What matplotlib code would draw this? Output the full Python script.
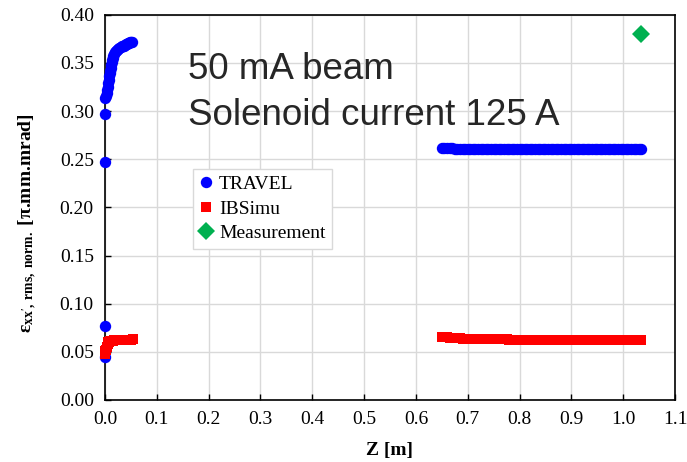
import matplotlib.pyplot as plt
import numpy as np

plt.rcParams['font.family'] = ['Liberation Serif', 'DejaVu Serif']
plt.rcParams['mathtext.fontset'] = 'custom'
plt.rcParams['mathtext.rm'] = 'Liberation Serif'
plt.rcParams['mathtext.bf'] = 'Liberation Serif:bold'
plt.rcParams['mathtext.it'] = 'Liberation Serif:italic'

# TRAVEL, near the source
travel_z_near = [0.000, 0.000, 0.000, 0.000, 0.001, 0.002, 0.003, 0.004, 0.005,
                 0.006, 0.007, 0.008, 0.009, 0.010, 0.011, 0.012, 0.013, 0.014,
                 0.015, 0.016, 0.018, 0.020, 0.022, 0.024, 0.026, 0.028, 0.030,
                 0.032, 0.034, 0.036, 0.038, 0.040, 0.042, 0.044, 0.046, 0.048,
                 0.050, 0.052]
travel_e_near = [0.045, 0.077, 0.247, 0.297, 0.313, 0.316, 0.319, 0.322, 0.325,
                 0.329, 0.332, 0.336, 0.339, 0.342, 0.345, 0.348, 0.351, 0.353,
                 0.355, 0.357, 0.359, 0.361, 0.362, 0.363, 0.364, 0.365, 0.366,
                 0.367, 0.368, 0.368, 0.369, 0.370, 0.370, 0.371, 0.371, 0.372,
                 0.372, 0.372]

# Downstream section sample positions
z_far = [0.650, 0.655, 0.660, 0.665, 0.670, 0.675, 0.680, 0.685, 0.690, 0.695,
         0.700, 0.705, 0.710, 0.715, 0.720, 0.725, 0.730, 0.735, 0.740, 0.745,
         0.750, 0.755, 0.760, 0.765, 0.770, 0.775, 0.780, 0.785, 0.790, 0.795,
         0.800, 0.805, 0.810, 0.815, 0.820, 0.825, 0.830, 0.835, 0.840, 0.845,
         0.850, 0.855, 0.860, 0.865, 0.870, 0.875, 0.880, 0.885, 0.890, 0.895,
         0.900, 0.905, 0.910, 0.915, 0.920, 0.925, 0.930, 0.935, 0.940, 0.945,
         0.950, 0.955, 0.960, 0.965, 0.970, 0.975, 0.980, 0.985, 0.990, 0.995,
         1.000, 1.005, 1.010, 1.015, 1.020, 1.025, 1.030, 1.035]

travel_e_far = [0.2612, 0.2612, 0.2611, 0.2611, 0.2611, 0.2610, 0.2610, 0.2610,
                0.2610, 0.2610, 0.2610, 0.2610, 0.2610, 0.2610, 0.2610, 0.2610,
                0.2610, 0.2610, 0.2610, 0.2610, 0.2610, 0.2610, 0.2610, 0.2610,
                0.2610, 0.2610, 0.2610, 0.2610, 0.2610, 0.2610, 0.2610, 0.2610,
                0.2610, 0.2610, 0.2610, 0.2610, 0.2610, 0.2610, 0.2610, 0.2610,
                0.2610, 0.2610, 0.2610, 0.2610, 0.2610, 0.2610, 0.2610, 0.2610,
                0.2610, 0.2610, 0.2610, 0.2610, 0.2610, 0.2610, 0.2610, 0.2610,
                0.2610, 0.2610, 0.2610, 0.2610, 0.2610, 0.2610, 0.2610, 0.2610,
                0.2610, 0.2610, 0.2610, 0.2610, 0.2610, 0.2610, 0.2610, 0.2610,
                0.2610, 0.2610, 0.2610, 0.2610, 0.2610, 0.2610]

# IBSimu, near the source
ibsimu_z_near = [0.000, 0.000, 0.002, 0.004, 0.005, 0.006, 0.008, 0.010, 0.012,
                 0.015, 0.018, 0.021, 0.024, 0.027, 0.030, 0.033, 0.036, 0.039,
                 0.042, 0.045, 0.048, 0.051, 0.054]
ibsimu_e_near = [0.048, 0.051, 0.052, 0.055, 0.058, 0.060, 0.0605, 0.061, 0.0612,
                 0.0615, 0.0618, 0.062, 0.0621, 0.0622, 0.0623, 0.0624, 0.0625,
                 0.0626, 0.0627, 0.0627, 0.0628, 0.0628, 0.0629]

# IBSimu, downstream section
ibsimu_e_far = [0.0655, 0.0652, 0.0650, 0.0648, 0.0645, 0.0643, 0.0641, 0.0639,
                0.0638, 0.0636, 0.0635, 0.0634, 0.0633, 0.0632, 0.0632, 0.0631,
                0.0631, 0.0630, 0.0630, 0.0630, 0.0630, 0.0629, 0.0629, 0.0629,
                0.0629, 0.0629, 0.0628, 0.0628, 0.0628, 0.0628, 0.0628, 0.0628,
                0.0628, 0.0628, 0.0628, 0.0628, 0.0628, 0.0628, 0.0628, 0.0628,
                0.0628, 0.0628, 0.0628, 0.0628, 0.0628, 0.0628, 0.0628, 0.0628,
                0.0628, 0.0628, 0.0628, 0.0628, 0.0628, 0.0628, 0.0628, 0.0628,
                0.0628, 0.0628, 0.0628, 0.0628, 0.0628, 0.0628, 0.0628, 0.0628,
                0.0628, 0.0628, 0.0628, 0.0628, 0.0628, 0.0628, 0.0628, 0.0628,
                0.0628, 0.0628, 0.0628, 0.0628, 0.0628, 0.0628]

# Measurement
meas_z = [1.035]
meas_e = [0.380]

fig = plt.figure(figsize=(6.87, 4.62), dpi=100)
ax = fig.add_axes([0.1528, 0.1342, 0.8297, 0.834])

ax.plot(travel_z_near + z_far, travel_e_near + travel_e_far, 'o',
        color='#0000FF', markersize=8.2, markeredgewidth=0, label='TRAVEL',
        zorder=3, clip_on=False)
ax.plot(ibsimu_z_near + z_far, ibsimu_e_near + ibsimu_e_far, 's',
        color='#FF0000', markersize=7.6, markeredgewidth=0, label='IBSimu',
        zorder=4, clip_on=False)
ax.plot(meas_z, meas_e, 'D', color='#00B050', markersize=9, markeredgewidth=0,
        label='Measurement', zorder=5, clip_on=False)

ax.set_xlim(0, 1.1)
ax.set_ylim(0, 0.40)
ax.set_xticks(np.arange(0, 1.11, 0.1))
ax.set_yticks(np.arange(0, 0.401, 0.05))
ax.xaxis.set_major_formatter(plt.FormatStrFormatter('%.1f'))
ax.yaxis.set_major_formatter(plt.FormatStrFormatter('%.2f'))
ax.tick_params(direction='in', length=4, width=1, labelsize=14, pad=8,
               colors='black')
ax.grid(True, color='#D9D9D9', linewidth=1)
ax.set_axisbelow(True)
for s in ax.spines.values():
    s.set_linewidth(1.2)
    s.set_color('black')
    s.set_zorder(2)

ax.set_xlabel('Z [m]', fontsize=14, fontweight='bold')
ax.xaxis.set_label_coords(0.5, -0.11)
ax.set_ylabel(r"$\mathbf{\epsilon}_{\mathbf{xx',\ rms,\ norm.}}$ [π.mm.mrad]",
              fontsize=14, fontweight='bold')
ax.yaxis.set_label_coords(-0.115, 0.46)

ax.text(0.146, 0.832, '50 mA beam', transform=ax.transAxes, fontsize=26.5,
        family='Liberation Sans', color='#262626', va='baseline')
ax.text(0.146, 0.715, 'Solenoid current 125 A', transform=ax.transAxes,
        fontsize=26.5, family='Liberation Sans', color='#262626', va='baseline')

leg = ax.legend(loc='upper left', bbox_to_anchor=(0.154, 0.60), fontsize=14,
                frameon=True, fancybox=False, framealpha=1, edgecolor='#D9D9D9',
                handlelength=0.7, handletextpad=0.3, borderpad=0.35,
                labelspacing=0.35, borderaxespad=0)
leg.get_frame().set_linewidth(1)

fig.savefig('out.png', dpi=100)
